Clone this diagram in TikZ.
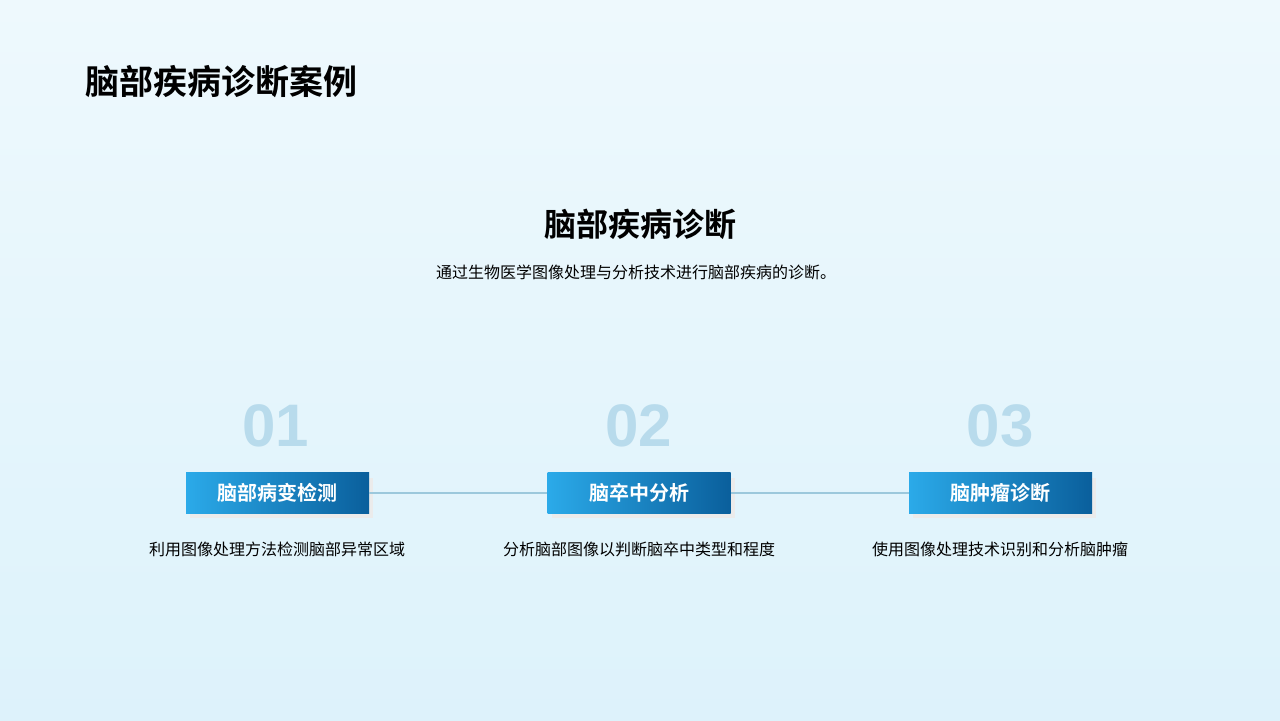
\documentclass[tikz,border=0pt]{standalone}
\usepackage{fontspec}
\setmainfont{Noto Sans CJK SC}
\newfontfamily\cjkb{Noto Sans CJK SC Bold}
\newfontfamily\numf{Liberation Sans}
\definecolor{bgtop}{HTML}{EEF9FD}
\definecolor{bgbot}{HTML}{DDF2FB}
\definecolor{numc}{HTML}{B8DBEC}
\definecolor{boxl}{HTML}{2BAAE9}
\definecolor{boxr}{HTML}{0A5F9C}
\definecolor{linec}{HTML}{9CC8DC}
\tikzset{
  stepbox/.style={minimum width=91.5pt,minimum height=20.5pt,left color=boxl,right color=boxr,draw=none,text=white,font=\cjkb\fontsize{10}{12}\selectfont},
  numtxt/.style={text=numc,font=\numf\bfseries\fontsize{30}{32}\selectfont},
  desc/.style={font=\fontsize{8}{10}\selectfont,text=black}
}
\begin{document}
\begin{tikzpicture}[x=0.5pt,y=-0.5pt]
\shade[top color=bgtop,bottom color=bgbot] (0,0) rectangle (1280,720);
\useasboundingbox (0,0) rectangle (1280,720);
\node[anchor=west,font=\cjkb\fontsize{17}{20}\selectfont] (title) at (78,82) {脑部疾病诊断案例};
\node[font=\cjkb\fontsize{16}{19}\selectfont] (sub) at (640,224) {脑部疾病诊断};
\node[desc] (d) at (636,272) {通过生物医学图像处理与分析技术进行脑部疾病的诊断。};
\node[numtxt] (n1) at (276,426) {01};
\node[numtxt] (n2) at (639,426) {02};
\node[numtxt] (n3) at (1000,426) {03};
\fill[black!8] (190,478) rectangle (373,518);
\fill[black!8] (552,478) rectangle (735,518);
\fill[black!8] (913,478) rectangle (1096,518);
\node[stepbox] (b1) at (277.5,493) {脑部病变检测};
\node[stepbox] (b2) at (639,493) {脑卒中分析};
\node[stepbox] (b3) at (1000.5,493) {脑肿瘤诊断};
\draw[linec,line width=0.6pt] (b1.east) -- (b2.west);
\draw[linec,line width=0.6pt] (b2.east) -- (b3.west);
\node[desc] (t1) at (277,549) {利用图像处理方法检测脑部异常区域};
\node[desc] (t2) at (639,549) {分析脑部图像以判断脑卒中类型和程度};
\node[desc] (t3) at (1000,549) {使用图像处理技术识别和分析脑肿瘤};
\end{tikzpicture}
\end{document}
